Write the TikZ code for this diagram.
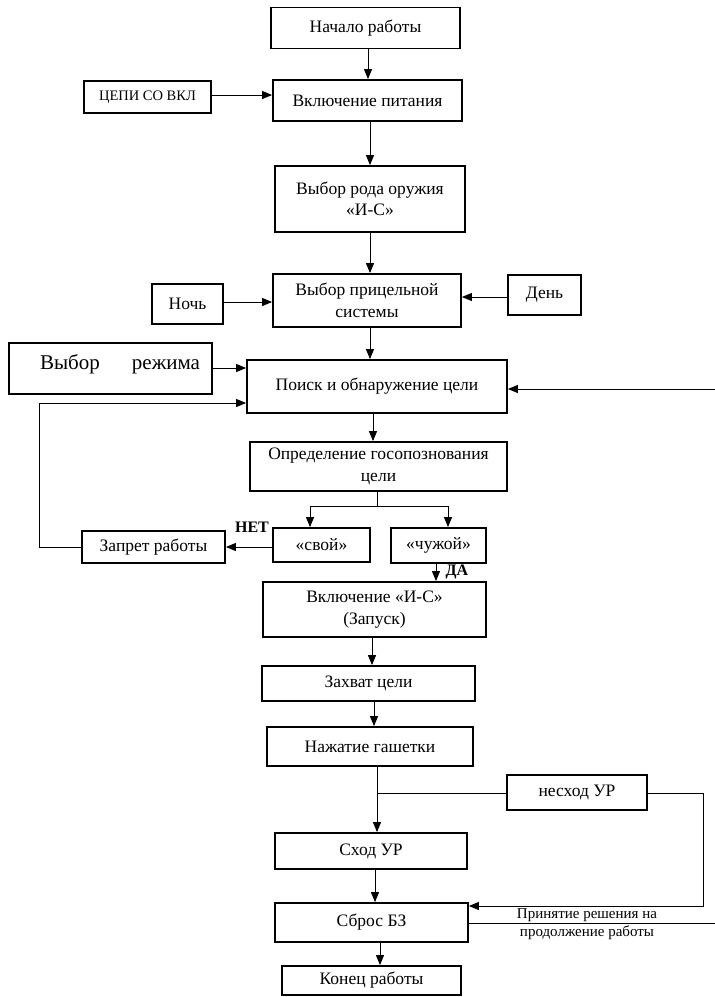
\documentclass[tikz,border=0pt]{standalone}
\usepackage{fontspec}
\setmainfont{Liberation Serif}
\usetikzlibrary{arrows.meta}
\begin{document}
\begin{tikzpicture}[x=1pt,y=-1pt,
  box/.style={draw,line width=1.8pt,inner sep=0pt,align=center,font=\fontsize{17.5}{21.5}\selectfont},
  conn/.style={line width=0.9pt},
  arr/.style={conn,-{Triangle[length=10pt,width=8pt]}},
  lbl/.style={font=\fontsize{16}{18}\selectfont\bfseries,inner sep=0pt},
  note/.style={font=\fontsize{15}{18}\selectfont,align=center,inner sep=0pt}]
\useasboundingbox (0,0) rectangle (715,997);
\node[box,minimum width=189pt,minimum height=41pt] (start) at (365.5,28) {Начало работы};
\node[box,minimum width=189pt,minimum height=41pt] (power) at (367.5,100.5) {Включение питания};
\node[box,minimum width=127pt,minimum height=32pt,font=\fontsize{14.5}{16}\selectfont] (cepi) at (147.5,97) {ЦЕПИ СО ВКЛ};
\node[box,minimum width=190pt,minimum height=66pt] (weapon) at (370,199) {Выбор рода оружия\\«И-С»};
\node[box,minimum width=188pt,minimum height=53pt] (sight) at (367,300.5) {Выбор прицельной\\системы};
\node[box,minimum width=71pt,minimum height=40pt] (night) at (187.5,304) {Ночь};
\node[box,minimum width=73pt,minimum height=40pt] (day) at (544.5,295) {День};
\node[box,minimum width=203pt,minimum height=51pt] (mode) at (110.5,368.5) {};
\node[font=\fontsize{21}{24}\selectfont,text width=160pt,inner sep=0pt,align=justify] (modetext) at (120,364) {Выбор\hfill режима};
\node[box,minimum width=260pt,minimum height=53pt] (search) at (377,386.5) {Поиск и обнаружение цели};
\node[box,minimum width=257pt,minimum height=49pt] (ident) at (378.5,466.5) {Определение госопознования\\цели};
\node[box,minimum width=97pt,minimum height=34pt] (own) at (321.5,545) {«свой»};
\node[box,minimum width=95pt,minimum height=35pt] (alien) at (438.5,545.5) {«чужой»};
\node[box,minimum width=143pt,minimum height=32pt] (ban) at (153.5,547) {Запрет работы};
\node[box,minimum width=223pt,minimum height=55pt] (launch) at (374.5,609.5) {Включение «И-С»\\(Запуск)};
\node[box,minimum width=213pt,minimum height=35pt] (lock) at (368.5,683.5) {Захват цели};
\node[box,minimum width=206pt,minimum height=39pt] (press) at (370,746.5) {Нажатие гашетки};
\node[box,minimum width=140pt,minimum height=35pt] (nofire) at (577,792.5) {несход УР};
\node[box,minimum width=192pt,minimum height=36pt] (fire) at (371,851) {Сход УР};
\node[box,minimum width=193pt,minimum height=39pt] (reset) at (371.5,922.5) {Сброс БЗ};
\node[box,minimum width=179pt,minimum height=29pt] (finish) at (371.5,980.5) {Конец работы};
\coordinate (rin) at (715,389);
\coordinate (rout) at (715,923);
\coordinate (lc1) at (39,547);
\coordinate (lc2) at (39,403);
\coordinate (split) at (377,506);
\coordinate (fork) at (377,793);
\coordinate (rc1) at (703,793);
\coordinate (rc2) at (703,906);
% main chain
\draw[arr] (start.south -| 368,0) -- (power.north -| 368,0);
\draw[arr] (cepi.east |- 0,95) -- (power.west |- 0,95);
\draw[arr] (power.south -| 370,0) -- (weapon.north -| 370,0);
\draw[arr] (weapon.south -| 370,0) -- (sight.north -| 370,0);
\draw[arr] (night.east |- 0,302) -- (sight.west |- 0,302);
\draw[arr] (day.west |- 0,297) -- (sight.east |- 0,297);
\draw[arr] (sight.south -| 370,0) -- (search.north -| 370,0);
\draw[arr] (mode.east |- 0,368) -- (search.west |- 0,368);
\draw[arr] (rin) -- (search.east |- rin);
\draw[arr] (search.south -| 373,0) -- (ident.north -| 373,0);
\draw[conn] (ident.south -| split) -- (split);
\draw[arr] (split) -| (own.north -| 310,0);
\draw[arr] (split) -| (alien.north -| 448,0);
\draw[arr] (own.west |- 0,547) -- (ban.east |- 0,547);
\node[lbl] (net) at (252,527) {НЕТ};
\draw[arr] (ban.west) -- (lc1) -- (lc2) -- (search.west |- lc2);
\draw[arr] (alien.south -| 436,0) -- (launch.north -| 436,0);
\node[lbl] (da) at (457,572) {ДА};
\draw[arr] (launch.south -| 372,0) -- (lock.north -| 372,0);
\draw[arr] (lock.south -| 374,0) -- (press.north -| 374,0);
\draw[arr] (press.south -| fork) -- (fire.north -| fork);
\draw[conn] (fork) -- (nofire.west |- fork);
\draw[arr] (nofire.east |- rc1) -- (rc1) -- (rc2) -- (reset.east |- rc2);
\draw[arr] (fire.south -| 375,0) -- (reset.north -| 375,0);
\draw[arr] (reset.south -| 380,0) -- (finish.north -| 380,0);
\draw[conn] (reset.east |- rout) -- (rout);
\node[note] (decision) at (587,924) {Принятие решения на\\продолжение работы};
\end{tikzpicture}
\end{document}
